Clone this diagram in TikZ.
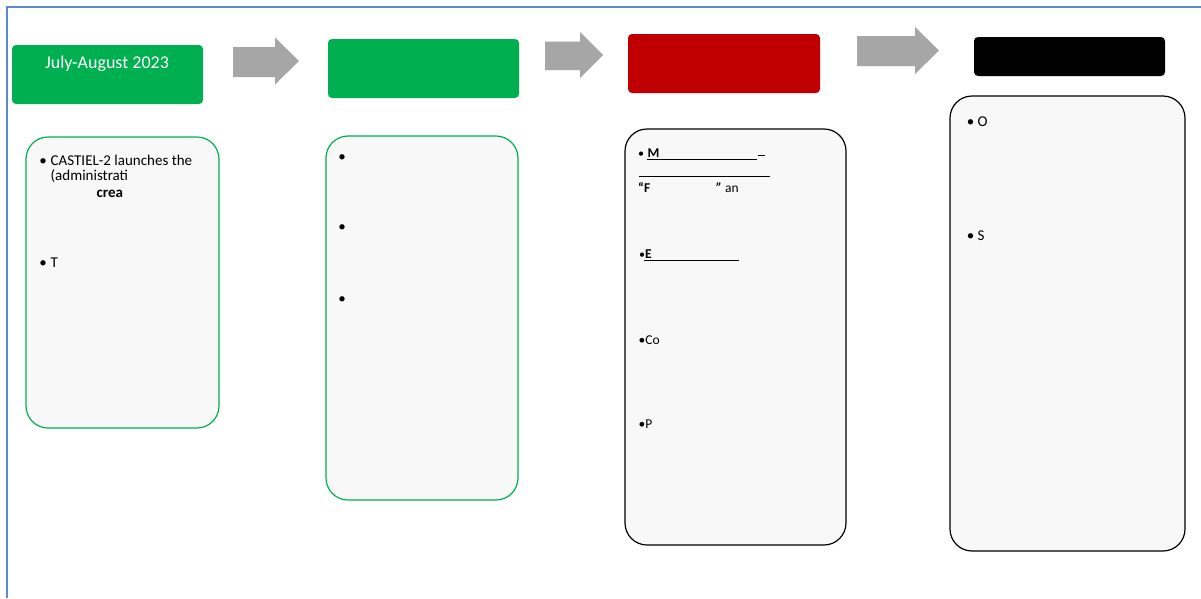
\documentclass[tikz,border=0pt]{standalone}
\usepackage{fontspec}
\setmainfont{Carlito}
\definecolor{hgreen}{HTML}{00B050}
\definecolor{hred}{HTML}{C00000}
\definecolor{agray}{HTML}{A6A6A6}
\definecolor{boxfill}{HTML}{F8F8F8}
\definecolor{frameblue}{HTML}{5B8BC8}
\tikzset{
  hdr/.style={rounded corners=4pt, inner sep=0pt, outer sep=0pt, minimum width=191pt, minimum height=59pt, draw=none},
  hdrtext/.style={text=white, font=\fontsize{18}{20}\selectfont, anchor=base, inner sep=0pt},
  panel/.style={rounded corners=22pt, fill=boxfill, inner sep=0pt, outer sep=0pt, line width=1.2pt},
  gpanel/.style={panel, draw=hgreen},
  kpanel/.style={panel, draw=black},
  txt/.style={font=\fontsize{15}{17}\selectfont, anchor=base west, inner sep=0pt},
  stxt/.style={font=\fontsize{13.5}{15}\selectfont, anchor=base west, inner sep=0pt},
  dot/.style={font=\fontsize{15}{17}\selectfont, anchor=base, inner sep=0pt},
  sdot/.style={font=\fontsize{12}{14}\selectfont, anchor=base, inner sep=0pt},
  arr/.style={fill=agray, draw=none},
  uline/.style={line width=1pt, black},
  frame/.style={draw=frameblue, line width=1.8pt}
}
\begin{document}
\begin{tikzpicture}[x=1pt,y=-1pt]
\useasboundingbox (0,0) rectangle (1201,598);
\fill[white] (0,0) rectangle (1201,598);
% outer frame
\draw[frame] (1201,7) -- (7,7) -- (7,598);

% headers
\node[hdr, fill=hgreen, minimum width=191pt, minimum height=59pt] (h1) at (107.5,74.5) {};
\node[hdrtext] (h1t) at (107,68) {July-August 2023};
\node[hdr, fill=hgreen, minimum width=191pt, minimum height=59pt] (h2) at (423.5,68.5) {};
\node[hdr, fill=hred, minimum width=192pt, minimum height=59pt] (h3) at (724,63.5) {};
\node[hdr, fill=black, minimum width=191pt, minimum height=39pt] (h4) at (1069.5,56.5) {};

% arrows
\fill[arr] (233,47) -- (275,47) -- (275,37.5) -- (299,61) -- (275,84.5) -- (275,77) -- (233,77) -- cycle;
\fill[arr] (545,41.5) -- (580,41.5) -- (580,32) -- (603,55) -- (580,78) -- (580,70) -- (545,70) -- cycle;
\fill[arr] (857,36) -- (915,36) -- (915,27) -- (939,50.5) -- (915,74) -- (915,66) -- (857,66) -- cycle;

% panels
\node[gpanel, minimum width=193pt, minimum height=291pt] (p1) at (122.5,282.5) {};
\node[gpanel, minimum width=192pt, minimum height=364pt] (p2) at (422,318) {};
\node[kpanel, minimum width=221pt, minimum height=416pt] (p3) at (735.5,337) {};
\node[kpanel, minimum width=235pt, minimum height=455pt] (p4) at (1067.5,323.5) {};

% panel 1 text
\node[dot] (b11) at (43,165) {•};
\node[txt] (t11) at (50.5,165) {CASTIEL-2 launches the};
\node[txt] (t12) at (50.5,180) {(administrati};
\node[txt, font=\fontsize{15}{17}\selectfont\bfseries] (t13) at (96.5,197) {crea};
\node[dot] (b12) at (43,267) {•};
\node[txt] (t14) at (50.5,267) {T};

% panel 2 bullets
\node[dot] (b21) at (342,161.5) {•};
\node[dot] (b22) at (342,231.5) {•};
\node[dot] (b23) at (342,303.5) {•};

% panel 3 text
\node[sdot] (b31) at (641,157.3) {•};
\node[stxt, font=\fontsize{13.5}{15}\selectfont\bfseries] (t31) at (647.5,157.3) {M};
\draw[uline] (646.7,159.3) -- (756.7,159.3);
\draw[uline] (757.5,155) -- (765,155);
\draw[uline] (639,176) -- (769.5,176);
\node[stxt, font=\fontsize{13.5}{15}\selectfont\bfseries] (t32) at (638,192) {“F};
\node[stxt] (t33) at (716,192) {\textbf{\textit{”}} an};
\node[sdot] (b32) at (642,258.3) {•};
\node[stxt, font=\fontsize{13.5}{15}\selectfont\bfseries] (t34) at (645,258.3) {E};
\draw[uline] (644,260.5) -- (739,260.5);
\node[stxt] (t35) at (638.5,344) {•Co};
\node[stxt] (t36) at (638.5,428.3) {•P};

% panel 4 text
\node[dot] (b41) at (970.5,126) {•};
\node[txt] (t41) at (977.5,126) {O};
\node[dot] (b42) at (970.5,240.5) {•};
\node[txt] (t42) at (977.5,240.5) {S};
\end{tikzpicture}
\end{document}
